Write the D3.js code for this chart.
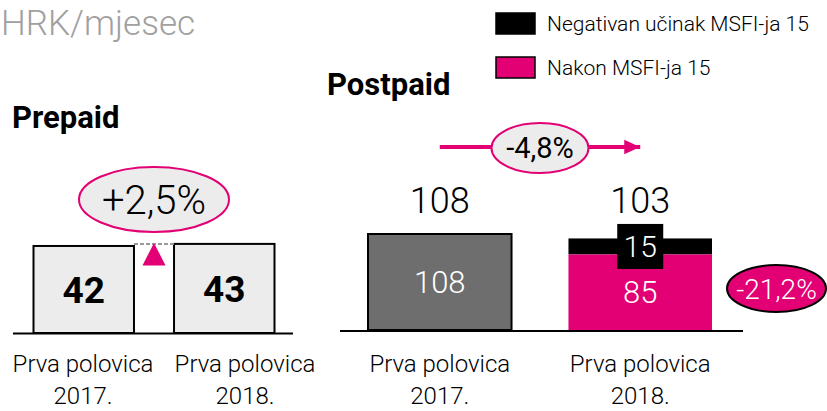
<!DOCTYPE html>
<html><head><meta charset="utf-8">
<script src="https://cdn.jsdelivr.net/npm/d3@7"></script>
<style>
html,body{margin:0;padding:0;background:#fff;}
svg{display:block;font-family:Roboto,"Liberation Sans",sans-serif;}
</style></head>
<body>
<svg id="chart" width="827" height="411"></svg>
<script>
// ---- data ----
const unitTitle = "HRK/mjesec";
const categoriesLine1 = ["Prva polovica", "Prva polovica"];
const categoriesLine2 = ["2017.", "2018."];
const prepaidTitle = "Prepaid";
const prepaidValues = [42, 43];
const prepaidChange = "+2,5%";
const postpaidTitle = "Postpaid";
const postpaidTotals = [108, 103];
const postpaidAfterMSFI = [108, 85];
const postpaidNegativeEffectLabel = [null, 15];
const postpaidChange = "-4,8%";
const postpaidMSFIChange = "-21,2%";
const legendLabels = ["Negativan učinak MSFI-ja 15", "Nakon MSFI-ja 15"];

const MAGENTA = "#e20074";
const svg = d3.select("#chart");

// arrow marker
const defs = svg.append("defs");
defs.append("marker").attr("id","arr").attr("viewBox","0 0 10 10")
  .attr("refX",10).attr("refY",5).attr("markerWidth",4).attr("markerHeight",4)
  .attr("markerUnits","strokeWidth").attr("orient","auto")
  .append("path").attr("d","M0,0.5 L10,5 L0,9.5 Z").attr("fill",MAGENTA);

// title
svg.append("text").attr("x",1).attr("y",35).attr("text-anchor","start")
  .attr("font-size",35).attr("font-weight",300).attr("fill","#a0a0a0").text(unitTitle);

// ---------- PREPAID ----------
const idx = d3.range(prepaidValues.length);
const xPre = d3.scaleBand().domain(idx).range([33.5, 274.5]).paddingInner(0.285).paddingOuter(0);
const yPre = d3.scaleLinear().domain([0, 50]).range([333, 229.4]);
const xPreLab = d3.scalePoint().domain(idx).range([83, 245]);

svg.append("text").attr("x",12).attr("y",128).attr("font-size",31).attr("font-weight",700)
  .attr("fill","#000").text(prepaidTitle);

const gPre = svg.append("g");
gPre.selectAll("rect.bar").data(prepaidValues).join("rect").attr("class","bar")
  .attr("x",(d,i)=>xPre(i)).attr("width",xPre.bandwidth())
  .attr("y",d=>yPre(d)).attr("height",d=>yPre(0)-yPre(d))
  .attr("fill","#ececec").attr("stroke","#000").attr("stroke-width",2);
gPre.selectAll("text.val").data(prepaidValues).join("text").attr("class","val")
  .attr("x",(d,i)=>xPre(i)+xPre.bandwidth()/2).attr("y",d=>(yPre(d)+yPre(0))/2)
  .attr("dy","0.36em").attr("text-anchor","middle").attr("font-size",37).attr("font-weight",700)
  .text(d=>d);
// baseline
gPre.append("line").attr("x1",13).attr("x2",293).attr("y1",yPre(0)+0.5).attr("y2",yPre(0)+0.5)
  .attr("stroke","#000").attr("stroke-width",2);
// dashed connector and triangle
const preMax = d3.max(prepaidValues);
const gapL = xPre(0)+xPre.bandwidth(), gapR = xPre(1), gapC = (gapL+gapR)/2;
gPre.append("line").attr("x1",gapL).attr("x2",gapR).attr("y1",yPre(preMax)).attr("y2",yPre(preMax))
  .attr("stroke","#999").attr("stroke-width",2).attr("stroke-dasharray","4,2");
gPre.append("path")
  .attr("d",`M${gapC},${yPre(preMax)-1} L${gapC+11.5},${yPre(preMax)+21.5} L${gapC-11.5},${yPre(preMax)+21.5} Z`)
  .attr("fill",MAGENTA);
// change ellipse
gPre.append("ellipse").attr("cx",gapC).attr("cy",199.5).attr("rx",75).attr("ry",32.5)
  .attr("fill","#ececec").attr("stroke",MAGENTA).attr("stroke-width",2);
gPre.append("text").attr("x",gapC).attr("y",199.5).attr("dy","0.36em").attr("text-anchor","middle")
  .attr("font-size",40).attr("font-weight",300).text(prepaidChange);
// category labels
gPre.selectAll("text.c1").data(categoriesLine1).join("text").attr("class","c1")
  .attr("x",(d,i)=>xPreLab(i)).attr("y",372).attr("text-anchor","middle")
  .attr("font-size",24).attr("font-weight",300).text(d=>d);
gPre.selectAll("text.c2").data(categoriesLine2).join("text").attr("class","c2")
  .attr("x",(d,i)=>xPreLab(i)).attr("y",404).attr("text-anchor","middle")
  .attr("font-size",24).attr("font-weight",300).text(d=>d);

// ---------- POSTPAID ----------
const xPost = d3.scaleBand().domain(idx).range([368, 712]).paddingInner(0.284).paddingOuter(0);
const yPost = d3.scaleLinear().domain([0, 108]).range([330, 234]);
const cx = i => xPost(i)+xPost.bandwidth()/2;

svg.append("text").attr("x",327).attr("y",95).attr("font-size",31).attr("font-weight",700)
  .text(postpaidTitle);

const gPost = svg.append("g");
// black (negative effect) segment: from after-MSFI value up to total
gPost.selectAll("rect.neg").data(postpaidTotals).join("rect").attr("class","neg")
  .attr("x",(d,i)=>xPost(i)).attr("width",xPost.bandwidth())
  .attr("y",d=>yPost(d)).attr("height",(d,i)=>yPost(postpaidAfterMSFI[i])-yPost(d))
  .attr("fill","#000");
gPost.selectAll("rect.main").data(postpaidAfterMSFI).join("rect").attr("class","main")
  .attr("x",(d,i)=>xPost(i)).attr("width",xPost.bandwidth())
  .attr("y",d=>yPost(d)).attr("height",d=>yPost(0)-yPost(d))
  .attr("fill",(d,i)=>i===0?"#6e6e6e":MAGENTA)
  .attr("stroke",(d,i)=>i===0?"#000":"none").attr("stroke-width",2);
gPost.selectAll("text.inner").data(postpaidAfterMSFI).join("text").attr("class","inner")
  .attr("x",(d,i)=>cx(i)).attr("y",d=>(yPost(d)+yPost(0))/2).attr("dy","0.36em")
  .attr("text-anchor","middle").attr("font-size",31).attr("font-weight",300).attr("fill","#fff")
  .text(d=>d);
// negative effect label box
postpaidNegativeEffectLabel.forEach((v,i)=>{
  if(v==null) return;
  const my = (yPost(postpaidTotals[i])+yPost(postpaidAfterMSFI[i]))/2;
  gPost.append("rect").attr("x",cx(i)-23).attr("y",my-22.5).attr("width",46).attr("height",45).attr("fill","#000");
  gPost.append("text").attr("x",cx(i)).attr("y",my).attr("dy","0.36em").attr("text-anchor","middle")
    .attr("font-size",30).attr("font-weight",300).attr("fill","#fff").text(v);
});
// totals
gPost.selectAll("text.tot").data(postpaidTotals).join("text").attr("class","tot")
  .attr("x",(d,i)=>cx(i)).attr("y",213).attr("text-anchor","middle")
  .attr("font-size",36).attr("font-weight",300).text(d=>d);
// baseline
gPost.append("line").attr("x1",340).attr("x2",743).attr("y1",yPost(0)+1).attr("y2",yPost(0)+1)
  .attr("stroke","#000").attr("stroke-width",2);
// arrow
gPost.append("line").attr("x1",cx(0)).attr("x2",cx(1)).attr("y1",147).attr("y2",147)
  .attr("stroke",MAGENTA).attr("stroke-width",4).attr("marker-end","url(#arr)");
const ecx = (cx(0)+cx(1))/2;
gPost.append("ellipse").attr("cx",ecx).attr("cy",148).attr("rx",48.5).attr("ry",25)
  .attr("fill","#ececec").attr("stroke",MAGENTA).attr("stroke-width",2);
gPost.append("text").attr("x",ecx).attr("y",148).attr("dy","0.36em").attr("text-anchor","middle")
  .attr("font-size",29).attr("font-weight",400).text(postpaidChange);
// MSFI change ellipse
gPost.append("ellipse").attr("cx",776.5).attr("cy",288.5).attr("rx",49.5).attr("ry",23.5)
  .attr("fill",MAGENTA).attr("stroke","#000").attr("stroke-width",2);
gPost.append("text").attr("x",776.5).attr("y",289).attr("dy","0.36em").attr("text-anchor","middle")
  .attr("font-size",28).attr("font-weight",300).attr("fill","#fff").text(postpaidMSFIChange);
// category labels
gPost.selectAll("text.c1").data(categoriesLine1).join("text").attr("class","c1")
  .attr("x",(d,i)=>cx(i)).attr("y",372).attr("text-anchor","middle")
  .attr("font-size",24).attr("font-weight",300).text(d=>d);
gPost.selectAll("text.c2").data(categoriesLine2).join("text").attr("class","c2")
  .attr("x",(d,i)=>cx(i)).attr("y",404).attr("text-anchor","middle")
  .attr("font-size",24).attr("font-weight",300).text(d=>d);

// ---------- LEGEND ----------
const legendColors = ["#000", MAGENTA];
const gLeg = svg.append("g");
const yLeg = d3.scalePoint().domain(d3.range(legendLabels.length)).range([23.5, 67.5]);
gLeg.selectAll("rect").data(legendLabels).join("rect")
  .attr("x",496).attr("y",(d,i)=>yLeg(i)-10.5).attr("width",39).attr("height",21)
  .attr("fill",(d,i)=>legendColors[i]).attr("stroke","#000").attr("stroke-width",1.5);
gLeg.selectAll("text").data(legendLabels).join("text")
  .attr("x",547).attr("y",(d,i)=>yLeg(i)).attr("dy","0.36em")
  .attr("font-size",21).attr("font-weight",300).text(d=>d);
</script>
</body></html>
